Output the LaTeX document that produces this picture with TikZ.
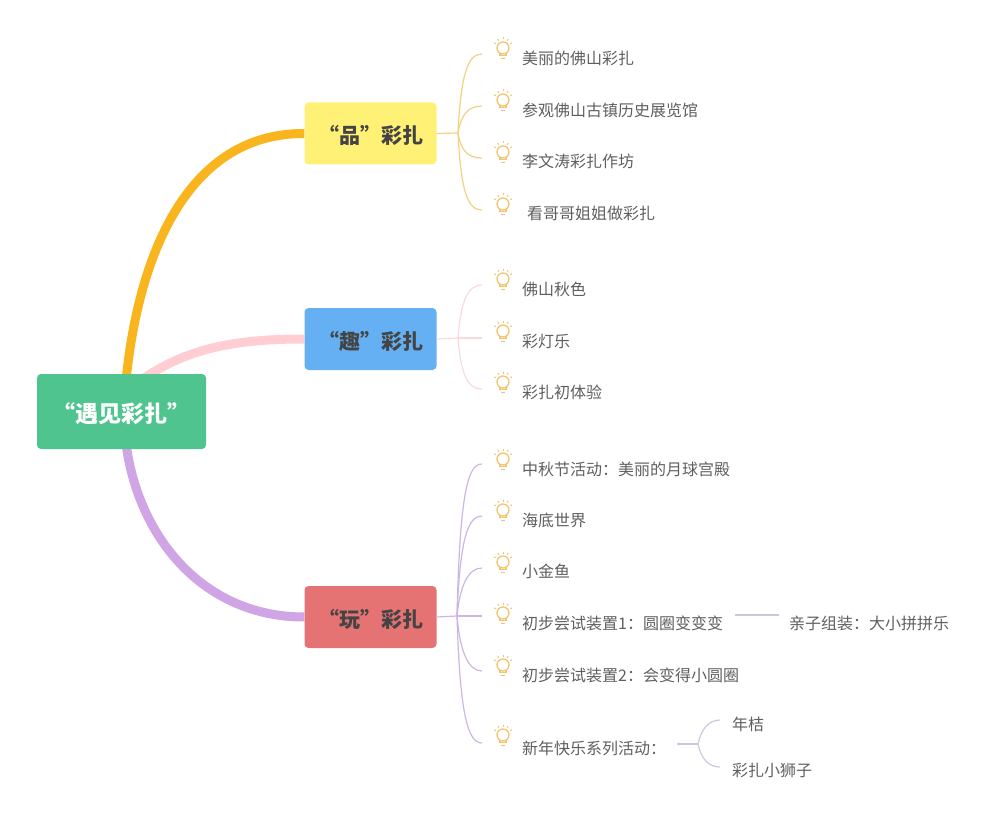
\documentclass[tikz,border=0pt]{standalone}
\usepackage{fontspec}
\usetikzlibrary{backgrounds}
\setmainfont{Noto Sans CJK SC}
\definecolor{rootgreen}{HTML}{50C48F}
\definecolor{pinyellow}{HTML}{FFF176}
\definecolor{qublue}{HTML}{64B0F2}
\definecolor{wanred}{HTML}{E57373}
\definecolor{orangeline}{HTML}{F9B51D}
\definecolor{pinkline}{HTML}{FFCDD2}
\definecolor{purpleline}{HTML}{CFA5E6}
\definecolor{yellowtwig}{HTML}{F2D083}
\definecolor{pinktwig}{HTML}{F8DADB}
\definecolor{purpletwig}{HTML}{CDB6E3}
\definecolor{greytwig}{HTML}{CFC6DE}
\definecolor{bulbcol}{HTML}{F3C470}
\definecolor{leaftext}{HTML}{5F5F5F}
\definecolor{boxtext}{HTML}{444444}
\begin{document}
\begin{tikzpicture}[x=1pt, y=-1pt,
	topic/.style = {shape=rectangle, rounded corners=4pt, inner sep=0pt, minimum width=132pt, minimum height=62pt, text height=22pt, text depth=2pt, font=\fontsize{21}{24}\selectfont\bfseries, text=boxtext},
	rootbox/.style = {shape=rectangle, rounded corners=4pt, inner sep=0pt, minimum width=169pt, minimum height=75pt, text height=24pt, text depth=2pt, fill=rootgreen, text=white, font=\fontsize{23}{26}\selectfont\bfseries},
	leaf/.style = {anchor=west, inner sep=0pt, text=leaftext, font=\fontsize{16}{20}\selectfont},
	branch/.style = {line width=9pt},
	twig/.style = {line width=1.2pt},
	bulb/.pic = {
		\draw[bulbcol, line width=1.3pt] (0,0) circle (6);
		\draw[bulbcol, line width=1.3pt] (-3,5.2) -- (-3,7.8) -- (3,7.8) -- (3,5.2) (-2.2,10.5) -- (2.2,10.5);
		\foreach \a in {-150,-120,-90,-60,-30}
			\draw[bulbcol, line width=1pt] (\a:8.5) -- (\a:10.5);
	}]
\useasboundingbox (0,0) rectangle (997,824);
\node[rootbox] (root) at (121.5,411.5) {“遇见彩扎”};
\node[topic, fill=pinyellow] (pin) at (370.5,133.5) {“品”彩扎};
\node[topic, fill=qublue] (qu) at (370.5,339) {“趣”彩扎};
\node[topic, fill=wanred] (wan) at (370.5,617) {“玩”彩扎};
\begin{scope}[on background layer]
\draw[branch, orangeline] ([xshift=5pt,yshift=-2pt]root.north) .. controls (140,250) and (190,133) .. (pin.west);
\draw[branch, pinkline] ([xshift=20pt,yshift=-6pt]root.north) .. controls (185,350) and (230,339) .. (qu.west);
\draw[branch, purpleline] ([xshift=5pt,yshift=2pt]root.south) .. controls (140,540) and (205,617) .. (wan.west);
\end{scope}
% first group
\coordinate (pinfork) at (458,133);
\draw[twig, yellowtwig] (pin.east) -- (pinfork);
\foreach \name/\tx/\ty/\by/\ey/\c/\txt in {
	pina/522/58/48/54/-60/美丽的佛山彩扎,
	pinb/522/110/100/106/-18/参观佛山古镇历史展览馆,
	pinc/522/161/152/158/18/李文涛彩扎作坊,
	pind/527/213/204/210/60/看哥哥姐姐做彩扎} {
	\node[leaf] (\name) at (\tx,\ty) {\txt};
	\pic at (503,\by) {bulb};
	\coordinate (\name end) at (482,\ey);
	\draw[twig, yellowtwig] (pinfork) .. controls +(3,\c) and +(-14,0) .. (\name end);
}
% second group
\coordinate (qufork) at (458,338);
\draw[twig, pinktwig] (qu.east) -- (qufork);
\foreach \name/\tx/\ty/\by/\ey/\c/\txt in {
	qua/522/289/279/285/-38/佛山秋色,
	qub/522/341/331/338/0/彩灯乐,
	quc/522/392/382/389/38/彩扎初体验} {
	\node[leaf] (\name) at (\tx,\ty) {\txt};
	\pic at (503,\by) {bulb};
	\coordinate (\name end) at (482,\ey);
	\draw[twig, pinktwig] (qufork) .. controls +(3,\c) and +(-14,0) .. (\name end);
}
% third group
\coordinate (wanfork) at (457,616);
\draw[twig, purpletwig] (wan.east) -- (wanfork);
\foreach \name/\tx/\ty/\by/\ey/\c/\txt in {
	wana/522/469/459/464/-125/中秋节活动：美丽的月球宫殿,
	wanb/522/520/510/516/-78/海底世界,
	wanc/522/571/562/568/-30/小金鱼,
	wand/522/623/613/616/0/初步尝试装置1：圆圈变变变,
	wane/522/675/665/671/35/初步尝试装置2：会变得小圆圈,
	wanf/522/748/735/743/100/新年快乐系列活动：} {
	\node[leaf] (\name) at (\tx,\ty) {\txt};
	\pic at (503,\by) {bulb};
	\coordinate (\name end) at (482,\ey);
	\draw[twig, purpletwig] (wanfork) .. controls +(3,\c) and +(-14,0) .. (\name end);
}
% sub items
\node[leaf] (zuzhuang) at (789,623) {亲子组装：大小拼拼乐};
\node[leaf] (nianju) at (732,724) {年桔};
\node[leaf] (shizi) at (732,770) {彩扎小狮子};
\coordinate (zustart) at (735,615);
\coordinate (zuend) at (779,615);
\draw[twig, greytwig] (zustart) -- (zuend);
\coordinate (substart) at (677,744);
\coordinate (subfork) at (698,744);
\coordinate (subup) at (720,720);
\coordinate (subdown) at (720,767);
\draw[twig, greytwig] (substart) -- (subfork);
\draw[twig, greytwig] (subfork) .. controls +(3,-14) and +(-12,0) .. (subup);
\draw[twig, greytwig] (subfork) .. controls +(3,14) and +(-12,0) .. (subdown);
\end{tikzpicture}
\end{document}
